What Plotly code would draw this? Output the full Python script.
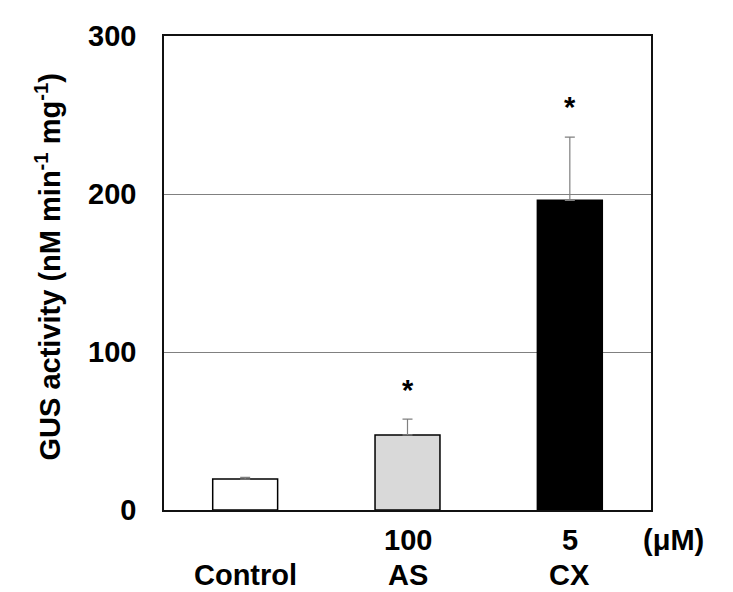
import plotly.graph_objects as go

# GUS activity per treatment
groups = ['Control', 'AS', 'CX']
conc = ['', '100', '5']
gus = [19.6, 47.5, 196]
err = [1, 10, 40]
signif = ['', '*', '*']
star_y = [0, 76, 255]
colors = ['white', '#d9d9d9', 'black']
yticks = [0, 100, 200, 300]

font = 'Liberation Sans, Arial, sans-serif'
bold = dict(family=font, size=29, color='black', weight='bold')

fig = go.Figure()
fig.add_trace(
    go.Bar(
        x=groups,
        y=gus,
        width=0.4,
        marker=dict(color=colors, line=dict(color='black', width=1.5)),
        error_y=dict(type='data', array=err, symmetric=False, arrayminus=[0, 0, 0],
                     color='#808080', thickness=1.2, width=5),
        showlegend=False,
    ))

fig.update_layout(
    width=733, height=592,
    margin=dict(l=156, r=90, t=18, b=90),
    plot_bgcolor='white', paper_bgcolor='white',
    font=bold,
)

fig.update_xaxes(showticklabels=False, showline=True, mirror=True,
                 linecolor='#111', linewidth=1.5, ticks='', showgrid=False)
fig.update_yaxes(range=[0, 300], tickvals=yticks, tickfont=bold,
                 ticklabelstandoff=20,
                 showline=True, mirror=True, linecolor='#111', linewidth=1.5,
                 ticks='', showgrid=True, gridcolor='#808080', gridwidth=1,
                 zeroline=False)

for g, c in zip(groups, conc):
    if c:
        fig.add_annotation(x=g, y=-0.064, xref='x', yref='paper', yanchor='middle',
                           text=c, showarrow=False, font=bold, borderpad=0)
    fig.add_annotation(x=g, y=-0.138, xref='x', yref='paper', yanchor='middle',
                       text=g, showarrow=False, font=bold, borderpad=0)

fig.add_annotation(x=1.11, y=-0.064, xref='paper', yref='paper', yanchor='middle',
                   text='(μM)', showarrow=False, font=bold, borderpad=0)

for g, s, sy in zip(groups, signif, star_y):
    if s:
        fig.add_annotation(x=g, y=sy, text=s, showarrow=False, font=bold)

fig.add_annotation(x=-0.279, y=0.512, xref='paper', yref='paper', textangle=-90,
                   text='GUS activity (nM min<sup>-1</sup> mg<sup>-1</sup>)',
                   showarrow=False, font=bold)

fig.write_html("out.html")
